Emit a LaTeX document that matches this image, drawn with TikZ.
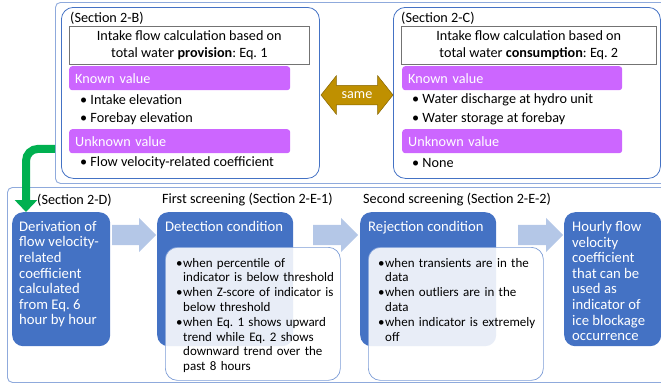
\documentclass[tikz,border=0pt]{standalone}
\usepackage{fontspec}
\setmainfont{Carlito}
\usetikzlibrary{arrows.meta,shapes.arrows,positioning,calc}
\definecolor{framecol}{HTML}{8FAADC}
\definecolor{boxblue}{HTML}{4472C4}
\definecolor{barviolet}{HTML}{CC66FF}
\definecolor{arrowblue}{HTML}{B4C7E7}
\definecolor{samegold}{HTML}{BF9000}
\definecolor{flowgreen}{HTML}{00B050}
\hyphenpenalty=10000
\frenchspacing
\newcommand{\bitem}[1]{\par\noindent\hangindent=7pt\hangafter=1\makebox[7pt][l]{\textbullet}#1\par}

\begin{document}
\begin{tikzpicture}[x=1pt,y=-1pt,
  frame/.style={draw=framecol,line width=0.9pt,rounded corners=5pt,anchor=north west,inner sep=0pt},
  group/.style={draw=boxblue,line width=0.8pt,rounded corners=12pt,anchor=north west,inner sep=0pt},
  sec/.style={anchor=west,inner sep=0pt,font=\fontsize{14.2}{16}\selectfont},
  titlebox/.style={draw=black!55,fill=white,line width=0.6pt,anchor=north west,inner sep=0pt,
    align=center,font=\fontsize{14.2}{17}\selectfont},
  valbar/.style={fill=barviolet,rounded corners=3pt,text=white,anchor=north west,
    minimum height=24pt,inner ysep=0pt,inner xsep=6pt,align=left,font=\fontsize{14.2}{16}\selectfont},
  bul/.style={anchor=west,inner sep=0pt,font=\fontsize{14.2}{16}\selectfont},
  bluebox/.style={fill=boxblue,rounded corners=11pt,anchor=north west,inner sep=0pt,minimum height=134pt},
  boxtext/.style={text=white,align=left,inner sep=0pt,font=\fontsize{14.7}{15.6}\selectfont},
  overlay/.style={draw=boxblue!70,fill=white,fill opacity=0.88,line width=0.7pt,rounded corners=12pt,
    anchor=north west,inner sep=0pt,minimum width=175pt,minimum height=133pt},
  bultext/.style={inner sep=0pt,align=left,text width=158pt,font=\fontsize{13}{14.8}\selectfont},
  blockarrow/.style={single arrow,fill=arrowblue,inner sep=0pt,single arrow head extend=7pt,
    minimum height=44pt,anchor=west},
  greenarr/.style={draw=flowgreen,line width=8pt,rounded corners=12pt,
    -{Triangle[length=12pt,width=22pt]}}
]
\clip (0,0) rectangle (661,389);

% outer frames
\node[frame,minimum width=620pt,minimum height=181pt] (upper) at (55,2) {};
\node[frame,minimum width=670pt,minimum height=195pt] (lower) at (7,187) {};

% provision side
\node[group,minimum width=258pt,minimum height=171pt] (grpB) at (61,7) {};
\node[sec] (secB) at (70,18) {(Section 2-B)};
\node[titlebox,minimum width=240pt,minimum height=38pt] (eqB) at (69,26)
  {Intake flow calculation based on\\ total water \textbf{provision}: Eq. 1};
\node[valbar,text width=209pt] (knownB) at (69,66) {Known value};
\node[bul] (kB1) at (80,100) {• Intake elevation};
\node[bul] (kB2) at (80,119) {• Forebay elevation};
\node[valbar,text width=209pt] (unknB) at (69,129) {Unknown value};
\node[bul] (uB1) at (80,163) {• Flow velocity-related coefficient};

% consumption side
\node[group,minimum width=267pt,minimum height=171pt] (grpC) at (393,7) {};
\node[sec] (secC) at (401,18) {(Section 2-C)};
\node[titlebox,minimum width=255pt,minimum height=38pt] (eqC) at (401,26)
  {Intake flow calculation based on\\ total water \textbf{consumption}: Eq. 2};
\node[valbar,text width=208pt] (knownC) at (402,66) {Known value};
\node[bul] (kC1) at (412,100) {• Water discharge at hydro unit};
\node[bul] (kC2) at (412,119) {• Water storage at forebay};
\node[valbar,text width=208pt] (unknC) at (402,129) {Unknown value};
\node[bul] (uC1) at (412,163) {• None};

% same
\node[double arrow,fill=samegold,draw=samegold!70!black,line width=0.5pt,inner sep=0pt,
  double arrow head extend=9.5pt,double arrow tip angle=103,minimum height=72pt,
  text=white,font=\fontsize{14.2}{16}\selectfont] (same) at (357,95) {\rule[-6pt]{0pt}{19pt}same};

% section labels below
\node[sec] (secD) at (37,200) {(Section 2-D)};
\node[sec] (secE1) at (162,200) {First screening (Section 2-E-1)};
\node[sec] (secE2) at (363,200) {Second screening (Section 2-E-2)};

% flow of boxes
\node[bluebox,minimum width=98pt] (deriv) at (12,212) {};
\node[boxtext,below right=9pt and 7pt of deriv.north west]
  {Derivation of\\ flow velocity-\\ related\\ coefficient\\ calculated\\ from Eq. 6\\ hour by hour};
\node[blockarrow] (arr1) at (112,235) {\rule{0pt}{20pt}};

\node[bluebox,minimum width=136pt] (detect) at (157,212) {};
\node[boxtext,below right=9pt and 8pt of detect.north west] (detecthd) {Detection condition};
\node[overlay] (detover) at (165,247) {};
\node[bultext,below right=5pt and 11pt of detover.north west] (detlist)
  {\bitem{when percentile of indicator is below threshold}%
   \bitem{when Z-score of indicator is below threshold}%
   \bitem{when Eq. 1 shows upward trend while Eq. 2 shows downward trend over the past 8 hours}};
\node[blockarrow,minimum height=45pt] (arr2) at (313,235) {\rule{0pt}{20pt}};

\node[bluebox,minimum width=136pt] (reject) at (360,212) {};
\node[boxtext,below right=9pt and 8pt of reject.north west] (rejecthd) {Rejection condition};
\node[overlay] (rejover) at (368,247) {};
\node[bultext,below right=5pt and 10pt of rejover.north west] (rejlist)
  {\bitem{when transients are in the data}%
   \bitem{when outliers are in the data}%
   \bitem{when indicator is extremely off}};
\node[blockarrow,minimum height=45pt] (arr3) at (518,235) {\rule{0pt}{20pt}};

\node[bluebox,minimum width=97pt] (hourly) at (564,212) {};
\node[boxtext,below right=9pt and 8pt of hourly.north west]
  {Hourly flow\\ velocity\\ coefficient\\ that can be\\ used as\\ indicator of\\ ice blockage\\ occurrence};

% green link
\draw[greenarr] ([yshift=35pt]upper.south west) -| ([xshift=14pt]deriv.north west);
\end{tikzpicture}
\end{document}
